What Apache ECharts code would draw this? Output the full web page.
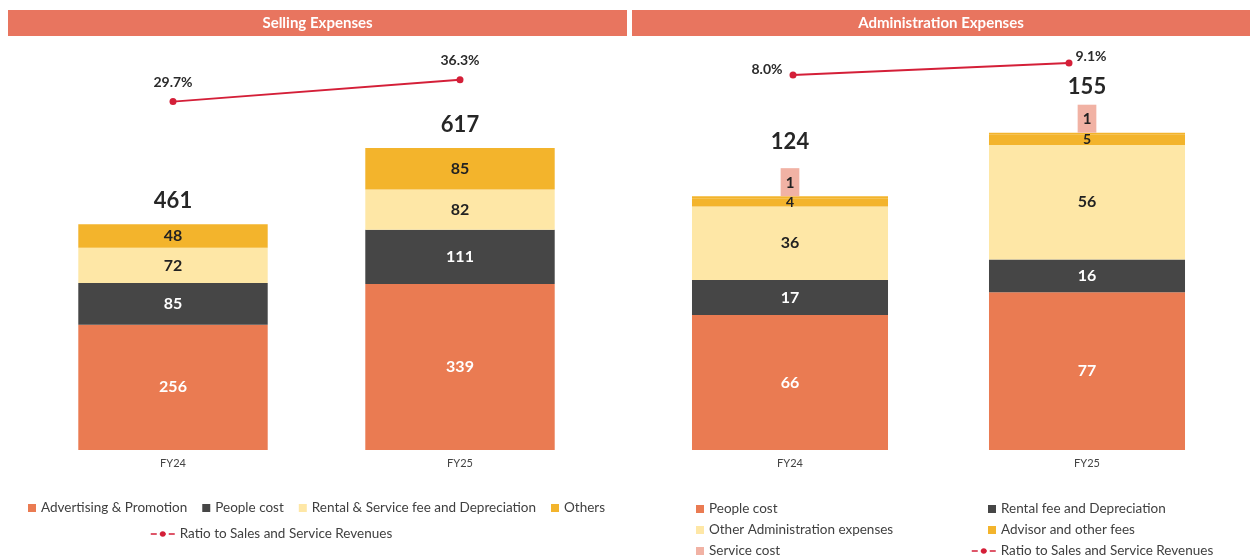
<!DOCTYPE html>
<html>
<head>
<meta charset="utf-8">
<script src="https://cdn.jsdelivr.net/npm/echarts@6/dist/echarts.min.js"></script>
<style>
	html, body { margin: 0; padding: 0; background: #fff; }
	#sellChart { position: absolute; left: 0; top: 0; width: 628px; height: 556px; }
	#adminChart { position: absolute; left: 628px; top: 0; width: 627px; height: 556px; }
</style>
</head>
<body>
<div id="sellChart"></div>
<div id="adminChart"></div>
<script>
	// 数据
	const categories = ['FY24', 'FY25'];

	const sellAdvertising = [256, 339];
	const sellPeople = [85, 111];
	const sellRental = [72, 82];
	const sellOthers = [48, 85];
	const sellTotal = [461, 617];
	const sellRatio = [29.7, 36.3];

	const adminPeople = [66, 77];
	const adminRental = [17, 16];
	const adminOther = [36, 56];
	const adminAdvisor = [4, 5];
	const adminService = [1, 1];
	const adminTotal = [124, 155];
	const adminRatio = [8.0, 9.1];

	const RATIO_NAME = 'Ratio to Sales and Service Revenues';
	const FONT = 'Lato, "Noto Sans", sans-serif';
	const cOrange = '#EA7B52';
	const cDark = '#464646';
	const cPale = '#FEE7A6';
	const cGold = '#F3B42C';
	const cPink = '#F1B2A4';
	const cRed = '#D41F38';
	const cTitle = '#E8755F';

	const titleBar = (x, w, text) => [{
		type: 'rect',
		shape: { x: x, y: 10, width: w, height: 26 },
		style: { fill: cTitle },
		silent: true
	}, {
		type: 'text',
		x: x + w / 2,
		y: 23,
		style: {
			text: text, fill: '#fff', font: 'bold 15px ' + FONT,
			align: 'center', verticalAlign: 'middle'
		},
		silent: true
	}];

	const barLabel = (color, size) => ({
		show: true,
		position: 'inside',
		color: color,
		fontSize: size || 16,
		fontWeight: 'bold',
		fontFamily: FONT
	});

	const barSeries = (name, data, color, labelColor, size) => ({
		name: name,
		type: 'bar',
		stack: 'cost',
		data: data,
		barWidth: '66%',
		itemStyle: { color: color },
		label: barLabel(labelColor, size)
	});

	// 合计标签
	const totalSeries = (data, distances) => ({
		name: 'total',
		type: 'scatter',
		data: data.map((v, i) => ({ value: v, label: { distance: distances[i] } })),
		symbolSize: 1,
		itemStyle: { color: 'rgba(0,0,0,0)', opacity: 1 },
		label: {
			show: true, position: 'top',
			color: '#262626', fontSize: 22, fontWeight: 'bold', fontFamily: FONT
		},
		silent: true
	});

	const catAxis = (gridIndex, show) => ({
		type: 'category',
		gridIndex: gridIndex,
		data: categories,
		show: show,
		axisLine: { show: false },
		axisTick: { show: false },
		axisLabel: { color: '#444', fontSize: 11, fontFamily: FONT, margin: 8 }
	});

	const valAxis = (gridIndex, min, max) => ({
		type: 'value',
		gridIndex: gridIndex,
		min: min,
		max: max,
		show: false,
		splitLine: { show: false }
	});

	const legendText = { color: '#404040', fontSize: 13.5, fontFamily: FONT };

	// Selling Expenses
	const sellChart = echarts.init(document.getElementById('sellChart'));
	sellChart.setOption({
		backgroundColor: '#fff',
		animation: false,
		graphic: titleBar(8, 619, 'Selling Expenses'),
		grid: [{ left: 29.5, right: 24.5, top: 50, bottom: 106 }],
		xAxis: [catAxis(0, true)],
		yAxis: [valAxis(0, 0, 817), valAxis(0, -74.9, 45.2)],
		legend: [{
			left: 28, top: 501, padding: 0, icon: 'rect',
			itemWidth: 8, itemHeight: 8, itemGap: 15,
			textStyle: legendText,
			data: ['Advertising & Promotion', 'People cost', 'Rental & Service fee and Depreciation', 'Others']
		}, {
			left: 150, top: 527, padding: 0,
			itemWidth: 24, itemHeight: 7,
			textStyle: legendText,
			lineStyle: { type: 'dashed', width: 1.5 },
			data: [RATIO_NAME]
		}],
		series: [
			barSeries('Advertising & Promotion', sellAdvertising, cOrange, '#fff'),
			barSeries('People cost', sellPeople, cDark, '#fff'),
			barSeries('Rental & Service fee and Depreciation', sellRental, cPale, '#222'),
			barSeries('Others', sellOthers, cGold, '#222'),
			totalSeries(sellTotal, [12, 12]),
			{
				name: RATIO_NAME,
				type: 'line',
				yAxisIndex: 1,
				data: sellRatio,
				symbol: 'circle',
				symbolSize: 7,
				lineStyle: { color: cRed, width: 2 },
				itemStyle: { color: cRed },
				label: {
					show: true, position: 'top', distance: 9,
					formatter: p => p.value.toFixed(1) + '%',
					color: '#2b2b2b', fontSize: 14, fontWeight: 'bold', fontFamily: FONT
				}
			}
		]
	});

	// Administration Expenses
	const ratioLabels = [
		{ position: 'left', distance: 7, offset: [0, -6] },
		{ position: 'right', distance: 3, offset: [0, -7] }
	];
	const adminChart = echarts.init(document.getElementById('adminChart'));
	adminChart.setOption({
		backgroundColor: '#fff',
		animation: false,
		graphic: titleBar(4, 618, 'Administration Expenses'),
		grid: [
			{ left: 13.5, right: 19.5, top: 50, bottom: 106 },
			{ left: 27, right: 48, top: 50, bottom: 106 }
		],
		xAxis: [catAxis(0, true), catAxis(1, false)],
		yAxis: [valAxis(0, 0, 195.4), valAxis(1, -26.4, 10.3)],
		legend: [{
			left: 68, top: 502, orient: 'vertical', padding: 0, height: 80, icon: 'rect',
			itemWidth: 8, itemHeight: 8, itemGap: 7,
			textStyle: legendText,
			data: ['People cost', 'Other Administration expenses', { name: 'Service cost', itemStyle: { color: cPink } }]
		}, {
			left: 360, top: 502, orient: 'vertical', padding: 0, height: 80, icon: 'rect',
			itemWidth: 8, itemHeight: 8, itemGap: 7,
			textStyle: legendText,
			data: ['Rental fee and Depreciation', 'Advisor and other fees']
		}, {
			left: 343, top: 544, padding: 0,
			itemWidth: 24, itemHeight: 7,
			textStyle: legendText,
			lineStyle: { type: 'dashed', width: 1.5 },
			data: [RATIO_NAME]
		}],
		series: [
			barSeries('People cost', adminPeople, cOrange, '#fff'),
			barSeries('Rental fee and Depreciation', adminRental, cDark, '#fff'),
			barSeries('Other Administration expenses', adminOther, cPale, '#222'),
			barSeries('Advisor and other fees', adminAdvisor, cGold, '#222', 14),
			{
				name: 'Service cost',
				type: 'bar',
				stack: 'cost',
				data: adminService,
				barWidth: '66%',
				itemStyle: { color: cGold },
				label: {
					show: true, position: 'top', distance: 0,
					backgroundColor: cPink, padding: [7, 5, 6, 5],
					color: '#222', fontSize: 15, fontWeight: 'bold', fontFamily: FONT
				}
			},
			totalSeries(adminTotal, [43, 34]),
			{
				name: RATIO_NAME,
				type: 'line',
				xAxisIndex: 1,
				yAxisIndex: 1,
				data: adminRatio.map((v, i) => ({ value: v, label: ratioLabels[i] })),
				symbol: 'circle',
				symbolSize: 7,
				lineStyle: { color: cRed, width: 2 },
				itemStyle: { color: cRed },
				label: {
					show: true,
					formatter: p => p.value.toFixed(1) + '%',
					color: '#2b2b2b', fontSize: 14, fontWeight: 'bold', fontFamily: FONT
				}
			}
		]
	});
</script>
</body>
</html>
